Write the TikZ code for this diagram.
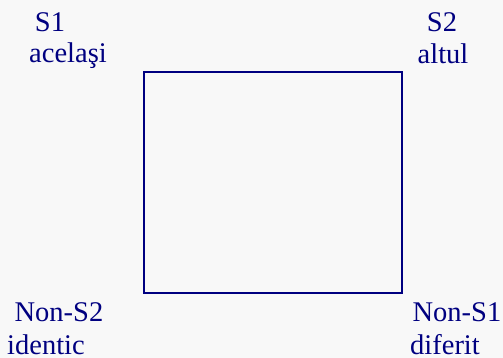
\documentclass[tikz,border=0pt]{standalone}
\usepackage{fontspec}
\setmainfont{Liberation Serif}
\definecolor{navy}{RGB}{0,0,128}
\definecolor{bg}{RGB}{248,248,248}
\begin{document}
\begin{tikzpicture}[x=1pt,y=1pt,
  lbl/.style={text=navy,font=\fontsize{28.5}{30}\selectfont,inner sep=0pt,anchor=base},
  frame/.style={draw=navy,line width=1.8pt}]
\fill[bg] (0,0) rectangle (503,358);
\useasboundingbox (0,0) rectangle (503,358);
\node[frame,minimum width=258pt,minimum height=221pt,inner sep=0pt] (box) at (273,175.5) {};
\node[lbl] (s1) at (50,326) {S1};
\node[lbl] (acel) at (68,295) {acelaşi};
\node[lbl] (s2) at (442,326) {S2};
\node[lbl] (altul) at (443,294) {altul};
\node[lbl] (ns2) at (59,36) {Non-S2};
\node[lbl] (ident) at (46,3) {identic};
\node[lbl] (ns1) at (457,36) {Non-S1};
\node[lbl] (dif) at (445,3) {diferit};
\end{tikzpicture}
\end{document}
